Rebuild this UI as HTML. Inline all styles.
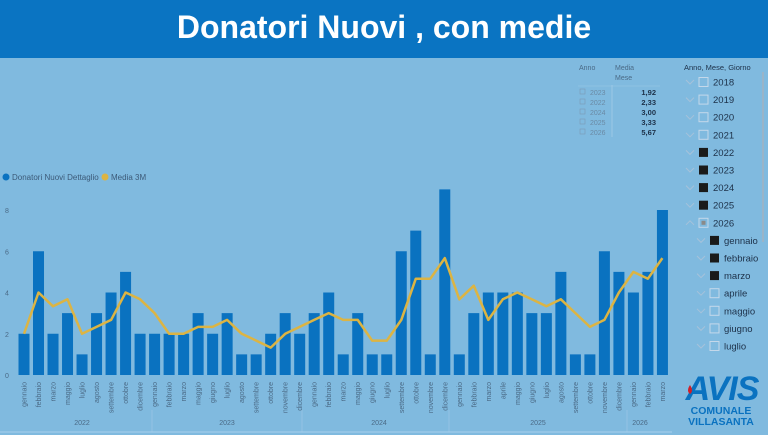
<!DOCTYPE html>
<html><head><meta charset="utf-8"><style>
body{margin:0;width:768px;height:435px;overflow:hidden;background:#80badf;font-family:"Liberation Sans",sans-serif;position:relative}
#hdr{position:absolute;left:0;top:0;width:768px;height:58px;background:#0a74c2;color:#fff;font-weight:bold;font-size:32px;text-align:center;line-height:54px}
svg{position:absolute;left:0;top:0}
</style></head><body>
<div id="hdr">Donatori Nuovi , con medie</div>
<svg id="s" width="768" height="435" xmlns="http://www.w3.org/2000/svg" font-family="Liberation Sans, sans-serif"></svg>
<script>
const s=document.getElementById('s');
let h='';
const bars=[2,6,2,3,1,3,4,5,2, 2,2,2,3,2,3,1,1,2,3,2, 3,4,1,3,1,1,6,7,1,9, 1,3,4,4,4,3,3,5,1,1,6,5, 4,5,8];
const line=[2,4,3.33,3.67,2,2.33,2.67,4,3.67, 3,2,2,2.33,2.33,2.67,2,1.67,1.33,2,2.33, 2.67,3,2.67,2.67,1.67,1.67,2.67,4.67,4.67,5.67, 3.67,4.33,2.67,3.67,4,3.67,3.33,3.67,3,2.33,2.67,4, 5,4.67,5.67];
const labs=['gennaio','febbraio','marzo','maggio','luglio','agosto','settembre','ottobre','dicembre',
'gennaio','febbraio','marzo','maggio','giugno','luglio','agosto','settembre','ottobre','novembre','dicembre',
'gennaio','febbraio','marzo','maggio','giugno','luglio','settembre','ottobre','novembre','dicembre',
'gennaio','febbraio','marzo','aprile','maggio','giugno','luglio','agosto','settembre','ottobre','novembre','dicembre',
'gennaio','febbraio','marzo'];
const y0=375,u=20.625,x0=24,st=14.51;
for(let v=0;v<=8;v+=2){const y=y0-v*u;h+=`<text x="5" y="${y+3}" font-size="7" fill="#4a6a86">${v}</text>`;}
bars.forEach((v,i)=>{const cx=x0+i*st;h+=`<rect x="${cx-5.5}" y="${y0-v*u}" width="11" height="${v*u}" fill="#0a72c0"/>`;
h+=`<text transform="translate(${cx+2.5},382) rotate(-90)" text-anchor="end" font-size="7" fill="#4a6a86">${labs[i]}</text>`;});
h+=`<polyline fill="none" stroke="#dcb443" stroke-width="2.5" stroke-linejoin="round" points="${line.map((v,i)=>(x0+i*st).toFixed(1)+','+(y0-v*u).toFixed(1)).join(' ')}"/>`;
[[82,'2022'],[227,'2023'],[379,'2024'],[538,'2025'],[640,'2026']].forEach(a=>h+=`<text x="${a[0]}" y="425" font-size="7" fill="#4a6a86" text-anchor="middle">${a[1]}</text>`);
[[152],[302],[449],[627]].forEach(a=>h+=`<line x1="${a[0]}" y1="410" x2="${a[0]}" y2="432" stroke="#9cc8e6" stroke-width="0.7"/>`);
h+=`<line x1="0" y1="432" x2="672" y2="432" stroke="#a8d0ec" stroke-width="1"/>`;
h+=`<circle cx="6" cy="177" r="3.5" fill="#0a72c0"/><text x="12" y="180" font-size="8" fill="#3c5a78">Donatori Nuovi Dettaglio</text>`;
h+=`<circle cx="105" cy="177" r="3.5" fill="#dcb443"/><text x="111" y="180" font-size="8" fill="#3c5a78">Media 3M</text>`;
h+=`<text x="579" y="70" font-size="7" fill="#4a6a86">Anno</text><text x="615" y="70" font-size="7" fill="#4a6a86">Media</text><text x="615" y="80" font-size="7" fill="#4a6a86">Mese</text>`;
h+=`<line x1="612" y1="85" x2="612" y2="137" stroke="#9cc8e6"/><line x1="578" y1="86" x2="660" y2="86" stroke="#9cc8e6" stroke-width="0.5"/>`;
[['2023','1,92'],['2022','2,33'],['2024','3,00'],['2025','3,33'],['2026','5,67']].forEach((r,i)=>{const y=95+i*10;
h+=`<rect x="580" y="${y-6}" width="5" height="5" fill="none" stroke="#7c9ab4" stroke-width="0.6"/><text x="590" y="${y}" font-size="7" fill="#6a8aa4">${r[0]}</text><text x="656" y="${y}" font-size="7.5" font-weight="bold" fill="#1c3048" text-anchor="end">${r[1]}</text>`;});
h+=`<text x="684" y="70" font-size="7.5" fill="#1c3048">Anno, Mese, Giorno</text>`;
h+=`<rect x="762" y="72" width="2" height="170" fill="#9ab4c8"/>`;
const sl=[['2018',0,0],['2019',0,0],['2020',0,0],['2021',0,0],['2022',1,0],['2023',1,0],['2024',1,0],['2025',1,0],['2026',2,0],['gennaio',1,1],['febbraio',1,1],['marzo',1,1],['aprile',0,1],['maggio',0,1],['giugno',0,1],['luglio',0,1]];
sl.forEach((r,i)=>{const y=82+i*17.6,ind=r[2]?11:0;
const cx=690+ind;
if(r[1]==2)h+=`<polyline points="${cx-4},${y+2} ${cx},${y-2} ${cx+4},${y+2}" fill="none" stroke="#a6c2da" stroke-width="1"/>`;
else h+=`<polyline points="${cx-4},${y-2} ${cx},${y+2} ${cx+4},${y-2}" fill="none" stroke="#a6c2da" stroke-width="1"/>`;
const bx=699+ind;
if(r[1]==1)h+=`<rect x="${bx}" y="${y-4.5}" width="9" height="9" fill="#1a1a1a"/>`;
else h+=`<rect x="${bx}" y="${y-4.5}" width="9" height="9" fill="none" stroke="#c4d8ea" stroke-width="1"/>`;
if(r[1]==2)h+=`<rect x="${bx+2.5}" y="${y-2}" width="4" height="4" fill="#8a8a8a"/>`;
h+=`<text x="${bx+14}" y="${y+3.5}" font-size="9.5" fill="#1c3048">${r[0]}</text>`;});
h+=`<text x="722" y="400" font-size="34" font-weight="bold" font-style="italic" fill="#0a72c0" text-anchor="middle" letter-spacing="-1">AVIS</text>`;
h+=`<path d="M690 385 q-4 6 0 9 q4 -3 0 -9z" fill="#d0202a"/>`;
h+=`<text x="721" y="414" font-size="10.5" font-weight="bold" fill="#0a72c0" text-anchor="middle">COMUNALE</text>`;
h+=`<text x="721" y="425" font-size="10.5" font-weight="bold" fill="#0a72c0" text-anchor="middle">VILLASANTA</text>`;
s.innerHTML=h;
</script>
</body></html>
